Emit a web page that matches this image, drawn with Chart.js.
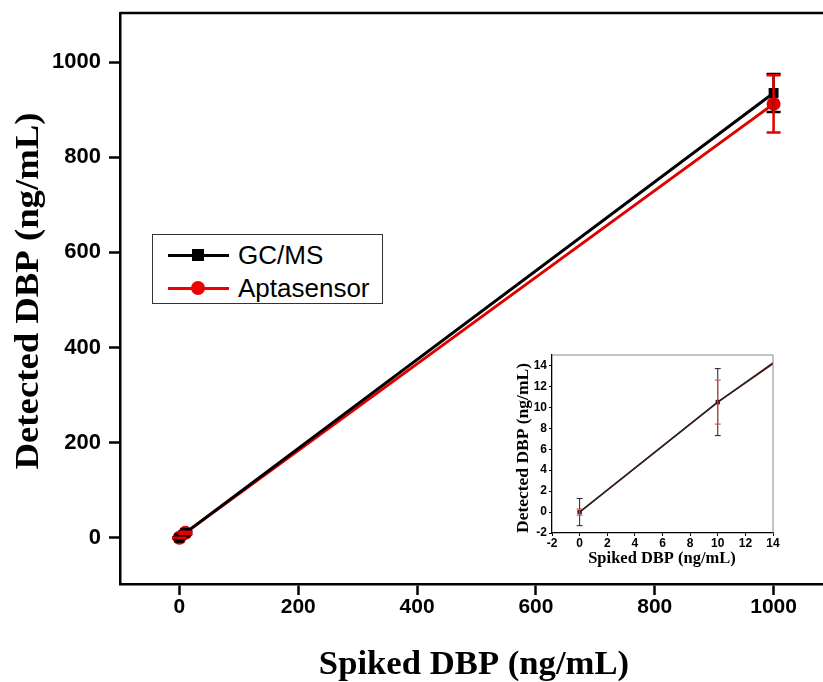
<!DOCTYPE html>
<html><head><meta charset="utf-8">
<script src="https://cdn.jsdelivr.net/npm/chart.js@4.4.0/dist/chart.umd.min.js"></script>
<style>
html,body{margin:0;padding:0;background:#fff;overflow:hidden;width:823px;height:682px;}
#wrap{position:relative;width:823px;height:682px;overflow:hidden;}
#main{position:absolute;left:0;top:0;}
#inset{position:absolute;left:500px;top:350px;}
#legend{position:absolute;left:152px;top:234px;width:229px;height:68px;border:1.5px solid #333;background:#fff;font-family:"Liberation Sans",Arial,sans-serif;font-size:26px;}
.row{position:absolute;left:0;height:32px;width:100%;}
.row .ln{position:absolute;left:15px;top:15px;width:61px;height:3px;}
.row .mk{position:absolute;}
.row .tx{position:absolute;left:85px;top:0px;line-height:32px;}
</style></head><body>
<div id="wrap">
<canvas id="main" width="845" height="682" style="width:845px;height:682px"></canvas>
<canvas id="inset" width="290" height="225" style="width:290px;height:225px"></canvas>
<div id="legend">
  <div class="row" style="top:4px"><div class="ln" style="background:#000"></div><div class="mk" style="left:39px;top:10px;width:12px;height:12px;background:#000"></div><div class="tx">GC/MS</div></div>
  <div class="row" style="top:37px"><div class="ln" style="background:#e00"></div><div class="mk" style="left:38px;top:9px;width:14px;height:14px;border-radius:50%;background:#e00"></div><div class="tx">Aptasensor</div></div>
</div>
</div>
<script>
// Data
const spiked = [0, 10, 1000];
const gcms = [0, 10.5, 935];
const gcmsErr = [1.3, 3.2, 40];
const apta = [0, 10.5, 912];
const aptaErr = [0.3, 2.1, 60];
const mainXTicks = [0, 200, 400, 600, 800, 1000];
const mainYTicks = [0, 200, 400, 600, 800, 1000];
const insetTicks = [-2, 0, 2, 4, 6, 8, 10, 12, 14];
const xTitle = 'Spiked DBP (ng/mL)';
const yTitle = 'Detected DBP (ng/mL)';

const pts = (xs, ys) => xs.map((x, i) => ({x: x, y: ys[i]}));

const errorBarPlugin = {
  id: 'errbars',
  afterDatasetsDraw(chart, args, opts) {
    const ctx = chart.ctx, xs = chart.scales.x, ys = chart.scales.y;
    const ca = chart.chartArea;
    ctx.save();
    ctx.beginPath(); ctx.rect(ca.left, ca.top, ca.right - ca.left, ca.bottom - ca.top); ctx.clip();
    chart.data.datasets.forEach((ds) => {
      if (!ds.errors) return;
      ctx.strokeStyle = ds.errColor || ds.borderColor;
      ctx.lineWidth = opts.lw;
      ds.data.forEach((p, i) => {
        const e = ds.errors[i];
        const px = xs.getPixelForValue(p.x);
        const y1 = ys.getPixelForValue(p.y + e), y2 = ys.getPixelForValue(p.y - e);
        ctx.beginPath();
        ctx.moveTo(px, y1); ctx.lineTo(px, y2);
        ctx.moveTo(px - opts.cap, y1); ctx.lineTo(px + opts.cap, y1);
        ctx.moveTo(px - opts.cap, y2); ctx.lineTo(px + opts.cap, y2);
        ctx.stroke();
      });
    });
    ctx.restore();
  }
};
const boxPlugin = {
  id: 'box',
  afterDraw(chart, args, opts) {
    const ctx = chart.ctx, ca = chart.chartArea;
    ctx.save();
    ctx.strokeStyle = opts.color; ctx.lineWidth = opts.lw;
    ctx.beginPath();
    ctx.moveTo(ca.left, ca.top); ctx.lineTo(ca.right, ca.top); ctx.lineTo(ca.right, ca.bottom);
    ctx.stroke();
    ctx.restore();
  }
};
const titlePlugin = {
  id: 'titles',
  afterDraw(chart, args, o) {
    const ctx = chart.ctx;
    ctx.save();
    ctx.fillStyle = '#000';
    ctx.font = 'bold ' + o.size + 'px "Liberation Serif", "Times New Roman", serif';
    ctx.textAlign = 'center'; ctx.textBaseline = 'middle';
    ctx.save();
    ctx.translate(o.xPos[0], o.xPos[1]);
    ctx.scale(o.xStretch, 1);
    ctx.fillText(o.xText, 0, 0);
    ctx.restore();
    ctx.translate(o.yPos[0], o.yPos[1]);
    ctx.rotate(-Math.PI / 2);
    ctx.scale(o.yStretch, 1);
    ctx.fillText(o.yText, 0, 0);
    ctx.restore();
  }
};
const plainNum = v => String(v);
const noPadY = s => { s.paddingTop = 0; s.paddingBottom = 0; };
const noPadX = s => { s.paddingLeft = 0; s.paddingRight = 0; };

// Main chart
new Chart(document.getElementById('main'), {
  type: 'scatter',
  data: { datasets: [
    { label: 'GC/MS', data: pts(spiked, gcms), errors: gcmsErr, showLine: true, borderColor: '#000', backgroundColor: '#000', borderWidth: 3, pointStyle: 'rect', pointRadius: 7, pointBorderWidth: 0 },
    { label: 'Aptasensor', data: pts(spiked, apta), errors: aptaErr, showLine: true, borderColor: '#e00000', backgroundColor: '#e00000', borderWidth: 3, pointStyle: 'circle', pointRadius: 7, pointBorderWidth: 0 }
  ]},
  options: {
    responsive: false, animation: false, devicePixelRatio: 1,
    layout: { autoPadding: false, padding: { top: 13, right: 12, left: 0, bottom: 0 } },
    plugins: { legend: { display: false }, tooltip: { enabled: false },
      errbars: { lw: 2.5, cap: 7 }, box: { color: '#000', lw: 2.5 },
      titles: { size: 34, xText: xTitle, yText: yTitle, xPos: [474, 665], yPos: [29, 291], xStretch: 1.02, yStretch: 1.08 } },
    scales: {
      x: { type: 'linear', min: -100, max: 1100,
        afterFit(s) { s.height = 98; noPadX(s); },
        afterBuildTicks(s) { s.ticks = mainXTicks.map(v => ({value: v})); },
        grid: { drawOnChartArea: false, drawTicks: true, tickLength: 11, tickWidth: 2.5, tickColor: '#000' },
        border: { color: '#000', width: 2.5 },
        ticks: { color: '#000', padding: 0, callback: plainNum, font: { family: '"Liberation Sans", Arial, sans-serif', size: 21, weight: 'bold' }, maxRotation: 0 }
      },
      y: { type: 'linear', min: -97, max: 1103,
        afterFit(s) { s.width = 120; noPadY(s); },
        afterBuildTicks(s) { s.ticks = mainYTicks.map(v => ({value: v})); },
        grid: { drawOnChartArea: false, drawTicks: true, tickLength: 11, tickWidth: 2.5, tickColor: '#000' },
        border: { color: '#000', width: 2.5 },
        ticks: { color: '#000', padding: 8, callback: plainNum, font: { family: '"Liberation Sans", Arial, sans-serif', size: 22, weight: 'bold' } }
      }
    }
  },
  plugins: [errorBarPlugin, boxPlugin, titlePlugin]
});

// Inset chart (canvas left = 500, top = 350)
new Chart(document.getElementById('inset'), {
  type: 'scatter',
  data: { datasets: [
    { label: 'GC/MS', data: pts(spiked, gcms), errors: gcmsErr, showLine: true, borderColor: '#222', backgroundColor: '#222', borderWidth: 1.6, pointStyle: 'rect', pointRadius: 2.5, pointBorderWidth: 0 },
    { label: 'Aptasensor', data: pts(spiked, apta), errors: aptaErr, errColor: '#e04040', showLine: true, borderColor: '#b02222', backgroundColor: '#e00000', borderWidth: 1.4, pointStyle: 'rect', pointRadius: 3.2, pointBorderWidth: 0 }
  ]},
  options: {
    responsive: false, animation: false, devicePixelRatio: 1,
    layout: { autoPadding: false, padding: { top: 5, right: 17, left: 0, bottom: 0 } },
    plugins: { legend: { display: false }, tooltip: { enabled: false },
      errbars: { lw: 1, cap: 3 }, box: { color: '#8a8a8a', lw: 1 },
      titles: { size: 16.5, xText: xTitle, yText: yTitle, xPos: [162, 209], yPos: [24, 98], xStretch: 1.0, yStretch: 1.06 } },
    scales: {
      x: { type: 'linear', min: -2, max: 14,
        afterFit(s) { s.height = 42; noPadX(s); },
        afterBuildTicks(s) { s.ticks = insetTicks.map(v => ({value: v})); },
        grid: { drawOnChartArea: false, drawTicks: true, tickLength: 3, tickWidth: 1, tickColor: '#000' },
        border: { color: '#000', width: 1.3 },
        ticks: { color: '#000', padding: 0, font: { family: '"Liberation Sans", Arial, sans-serif', size: 12, weight: 'bold' }, maxRotation: 0 }
      },
      y: { type: 'linear', min: -2, max: 15,
        afterFit(s) { s.width = 52; noPadY(s); },
        afterBuildTicks(s) { s.ticks = insetTicks.map(v => ({value: v})); },
        grid: { drawOnChartArea: false, drawTicks: true, tickLength: 3, tickWidth: 1, tickColor: '#000' },
        border: { color: '#000', width: 1.3 },
        ticks: { color: '#000', padding: 2, font: { family: '"Liberation Sans", Arial, sans-serif', size: 12, weight: 'bold' } }
      }
    }
  },
  plugins: [errorBarPlugin, boxPlugin, titlePlugin]
});
</script>
</body></html>
